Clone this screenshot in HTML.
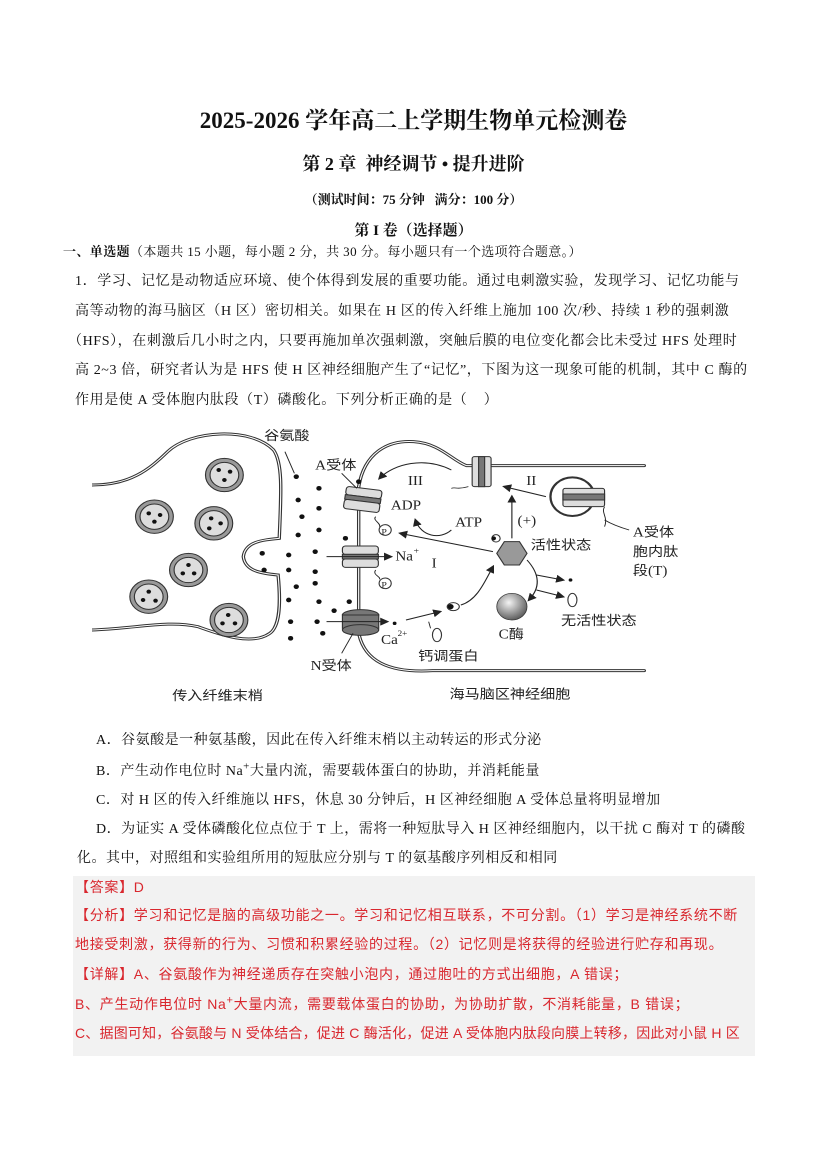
<!DOCTYPE html>
<html><head><meta charset="utf-8">
<style>
html,body{margin:0;padding:0;background:#fff;}
body{width:827px;height:1169px;position:relative;overflow:hidden;font-family:"Liberation Serif","Noto Serif CJK SC","Noto Sans CJK SC",serif;color:#111;}
.t{position:absolute;white-space:nowrap;}
.b{font-size:14px;left:75px;letter-spacing:0.6px;}
.o{font-size:14px;left:96px;letter-spacing:0.5px;}
.ans{position:absolute;left:73px;top:876px;width:682px;height:180px;background:#f2f2f2;}
.r{color:#d9272e;font-size:14px;left:75px;letter-spacing:0.7px;font-family:"Liberation Sans","Noto Sans CJK SC",sans-serif;}
.sm{font-size:11px;}
svg text{font-family:"Liberation Serif","Noto Sans CJK SC",serif;fill:#222;}
</style></head><body>
<div class="t" style="left:0;width:827px;text-align:center;top:102px;font-size:23px;font-weight:bold;">2025-2026 学年高二上学期生物单元检测卷</div>
<div class="t" style="left:0;width:827px;text-align:center;top:150px;font-size:18px;font-weight:bold;">第 2 章&nbsp; 神经调节 • 提升进阶</div>
<div class="t" style="left:0;width:827px;text-align:center;top:189px;font-size:13px;font-weight:bold;">（测试时间：75 分钟&nbsp;&nbsp; 满分：100 分）</div>
<div class="t" style="left:0;width:827px;text-align:center;top:219px;font-size:15px;font-weight:bold;">第 I 卷（选择题）</div>
<div class="t" style="left:63px;top:241px;font-size:13px;letter-spacing:0.4px;"><b>一、单选题</b>（本题共 15 小题，每小题 2 分，共 30 分。每小题只有一个选项符合题意。）</div>
<div class="t b" style="top:270px;">1．学习、记忆是动物适应环境、使个体得到发展的重要功能。通过电刺激实验，发现学习、记忆功能与</div>
<div class="t b" style="top:300px;">高等动物的海马脑区（H 区）密切相关。如果在 H 区的传入纤维上施加 100 次/秒、持续 1 秒的强刺激</div>
<div class="t b" style="top:330px;left:68px;">（HFS），在刺激后几小时之内，只要再施加单次强刺激，突触后膜的电位变化都会比未受过 HFS 处理时</div>
<div class="t b" style="top:359px;">高 2~3 倍，研究者认为是 HFS 使 H 区神经细胞产生了“记忆”，下图为这一现象可能的机制，其中 C 酶的</div>
<div class="t b" style="top:389px;">作用是使 A 受体胞内肽段（T）磷酸化。下列分析正确的是（&nbsp;&nbsp;&nbsp; ）</div>

<svg style="position:absolute;left:92px;top:420px;" width="592" height="300" viewBox="0 0 1565 900" preserveAspectRatio="none">
<defs>
<radialGradient id="g" cx="0.4" cy="0.35" r="0.7"><stop offset="0" stop-color="#f4f4f4"/><stop offset="1" stop-color="#555"/></radialGradient>
<marker id="a" markerWidth="8" markerHeight="8" refX="6" refY="4" orient="auto"><path d="M0,0 L8,4 L0,8 z" fill="#222"/></marker>
</defs>
<g fill="none" stroke-linecap="round">
<g stroke="#333" stroke-width="9">
<path d="M0,195 C100,195 150,150 200,95 C260,30 420,20 480,90 C505,130 500,220 495,355 C450,360 405,365 400,410 C405,455 450,460 492,465 C500,560 495,620 470,640 C420,680 330,640 280,620 C200,600 120,625 0,630"/>
<path d="M705,200 C720,100 780,60 850,65 C920,70 950,120 990,137 L1460,137"/>
<path d="M705,200 L705,640 C720,720 780,760 900,752 L1460,752"/>
</g>
<g stroke="#fff" stroke-width="3">
<path d="M0,195 C100,195 150,150 200,95 C260,30 420,20 480,90 C505,130 500,220 495,355 C450,360 405,365 400,410 C405,455 450,460 492,465 C500,560 495,620 470,640 C420,680 330,640 280,620 C200,600 120,625 0,630"/>
<path d="M705,200 C720,100 780,60 850,65 C920,70 950,120 990,137 L1460,137"/>
<path d="M705,200 L705,640 C720,720 780,760 900,752 L1460,752"/>
</g>
</g>
<g stroke="#333" stroke-width="3">
<g fill="#999"><circle cx="350" cy="165" r="50"/><circle cx="165" cy="290" r="50"/><circle cx="322" cy="310" r="50"/><circle cx="255" cy="450" r="50"/><circle cx="150" cy="530" r="50"/><circle cx="362" cy="600" r="50"/></g>
<g fill="#ddd"><circle cx="350" cy="165" r="38"/><circle cx="165" cy="290" r="38"/><circle cx="322" cy="310" r="38"/><circle cx="255" cy="450" r="38"/><circle cx="150" cy="530" r="38"/><circle cx="362" cy="600" r="38"/></g>
</g>
<g fill="#111">
<circle cx="335" cy="150" r="6"/><circle cx="365" cy="155" r="6"/><circle cx="350" cy="180" r="6"/>
<circle cx="150" cy="280" r="6"/><circle cx="180" cy="285" r="6"/><circle cx="165" cy="305" r="6"/>
<circle cx="315" cy="295" r="6"/><circle cx="340" cy="310" r="6"/><circle cx="310" cy="325" r="6"/>
<circle cx="255" cy="435" r="6"/><circle cx="240" cy="460" r="6"/><circle cx="270" cy="460" r="6"/>
<circle cx="150" cy="515" r="6"/><circle cx="135" cy="540" r="6"/><circle cx="168" cy="542" r="6"/>
<circle cx="360" cy="585" r="6"/><circle cx="345" cy="610" r="6"/><circle cx="378" cy="610" r="6"/>
<circle cx="540" cy="170" r="7"/><circle cx="600" cy="205" r="7"/><circle cx="545" cy="240" r="7"/><circle cx="600" cy="265" r="7"/><circle cx="555" cy="290" r="7"/><circle cx="600" cy="330" r="7"/><circle cx="545" cy="345" r="7"/><circle cx="450" cy="400" r="7"/><circle cx="520" cy="405" r="7"/><circle cx="590" cy="395" r="7"/><circle cx="455" cy="450" r="7"/><circle cx="520" cy="450" r="7"/><circle cx="590" cy="455" r="7"/><circle cx="540" cy="500" r="7"/><circle cx="590" cy="490" r="7"/><circle cx="520" cy="540" r="7"/><circle cx="600" cy="545" r="7"/><circle cx="525" cy="605" r="7"/><circle cx="595" cy="605" r="7"/><circle cx="610" cy="640" r="7"/><circle cx="525" cy="655" r="7"/><circle cx="670" cy="355" r="7"/><circle cx="705" cy="185" r="7"/><circle cx="640" cy="572" r="7"/><circle cx="680" cy="545" r="7"/><circle cx="800" cy="610" r="5"/><circle cx="1265" cy="480" r="5"/>
</g>
<g stroke="#333" stroke-width="3">
<g transform="rotate(8 715 240)"><rect x="668" y="205" width="95" height="25" rx="8" fill="#ddd"/><rect x="668" y="230" width="95" height="14" fill="#777"/><rect x="668" y="244" width="95" height="28" rx="8" fill="#ddd"/></g>
<rect x="662" y="378" width="95" height="25" rx="8" fill="#ddd"/><rect x="662" y="403" width="95" height="14" fill="#777"/><rect x="662" y="417" width="95" height="25" rx="8" fill="#ddd"/>
<ellipse cx="710" cy="585" rx="48" ry="16" fill="#777"/><rect x="662" y="585" width="96" height="40" fill="#777"/><ellipse cx="710" cy="630" rx="48" ry="16" fill="#777"/>
<rect x="1005" y="110" width="50" height="90" rx="6" fill="#ddd"/><rect x="1022" y="110" width="16" height="90" fill="#777"/>
<circle cx="1270" cy="230" r="58" fill="#fff" stroke-width="6"/>
<rect x="1245" y="205" width="110" height="55" rx="6" fill="#ddd"/><rect x="1245" y="222" width="110" height="18" fill="#777"/>
<circle cx="775" cy="330" r="16" fill="#fff"/><circle cx="775" cy="490" r="16" fill="#fff"/>
<polygon points="1070,400 1090,365 1130,365 1150,400 1130,435 1090,435" fill="#999"/>
<circle cx="1068" cy="355" r="11" fill="#fff"/>
<ellipse cx="955" cy="560" rx="16" ry="12" fill="#fff"/><ellipse cx="912" cy="645" rx="12" ry="20" fill="#fff"/><ellipse cx="1270" cy="540" rx="12" ry="20" fill="#fff"/>
</g>
<circle cx="948" cy="560" r="8" fill="#111"/><circle cx="1062" cy="355" r="6" fill="#111"/>
<circle cx="1110" cy="560" r="40" fill="url(#g)" stroke="#333" stroke-width="2"/>
<g fill="none" stroke="#222" stroke-width="3" marker-end="url(#a)">
<path d="M950,150 C880,110 800,130 760,175"/>
<path d="M1200,230 L1090,200"/>
<path d="M1110,355 L1110,230"/>
<path d="M1060,395 L815,340"/>
<path d="M950,330 C920,360 870,350 855,300"/>
<path d="M620,410 L790,410"/>
<path d="M620,605 L780,605"/>
<path d="M830,600 L920,575"/>
<path d="M975,555 C1020,540 1040,480 1060,440"/>
<path d="M1150,420 C1190,470 1180,510 1155,540"/>
<path d="M1175,465 L1245,480"/>
<path d="M1175,510 L1245,530"/>
</g>
<g fill="none" stroke="#222" stroke-width="2.5">
<path d="M510,95 L535,160"/><path d="M660,160 L700,205"/><path d="M660,700 L690,640"/>
<path d="M1420,330 C1390,320 1370,310 1355,300"/>
<path d="M890,605 L895,625"/>
<path d="M750,290 C740,300 765,310 760,320"/><path d="M750,450 C740,465 765,470 760,478"/>
<path d="M1355,260 C1345,280 1365,290 1355,320"/><path d="M950,205 C960,200 965,210 995,200"/>
</g>
<g font-size="40">
<text x="455" y="60">谷氨酸</text>
<text x="590" y="148">A受体</text>
<text x="835" y="195">III</text>
<text x="1148" y="195">II</text>
<text x="790" y="268">ADP</text>
<text x="960" y="320">ATP</text>
<text x="1125" y="315">(+)</text>
<text x="1160" y="388">活性状态</text>
<text x="802" y="422">Na</text><text x="850" y="400" font-size="26">+</text>
<text x="898" y="442">I</text>
<text x="764" y="672">Ca</text><text x="808" y="648" font-size="24">2+</text>
<text x="1075" y="655">C酶</text>
<text x="1240" y="615">无活性状态</text>
<text x="862" y="722">钙调蛋白</text>
<text x="578" y="750">N受体</text>
<text x="212" y="840">传入纤维末梢</text>
<text x="945" y="835">海马脑区神经细胞</text>
<text x="1430" y="350">A受体</text>
<text x="1430" y="408">胞内肽</text>
<text x="1430" y="465">段(T)</text>
<text x="765" y="343" font-size="26">P</text><text x="765" y="503" font-size="26">P</text>
</g>
</svg>

<div class="t o" style="top:729px;">A．谷氨酸是一种氨基酸，因此在传入纤维末梢以主动转运的形式分泌</div>
<div class="t o" style="top:760px;">B．产生动作电位时 Na<sup class="sm">+</sup>大量内流，需要载体蛋白的协助，并消耗能量</div>
<div class="t o" style="top:789px;">C．对 H 区的传入纤维施以 HFS，休息 30 分钟后，H 区神经细胞 A 受体总量将明显增加</div>
<div class="t o" style="top:818px;">D．为证实 A 受体磷酸化位点位于 T 上，需将一种短肽导入 H 区神经细胞内，以干扰 C 酶对 T 的磷酸</div>
<div class="t o" style="top:847px;left:77px;">化。其中，对照组和实验组所用的短肽应分别与 T 的氨基酸序列相反和相同</div>

<div class="ans"></div>
<div class="t r" style="top:877px;">【答案】D</div>
<div class="t r" style="top:905px;">【分析】学习和记忆是脑的高级功能之一。学习和记忆相互联系，不可分割。（1）学习是神经系统不断</div>
<div class="t r" style="top:934px;">地接受刺激，获得新的行为、习惯和积累经验的过程。（2）记忆则是将获得的经验进行贮存和再现。</div>
<div class="t r" style="top:964px;">【详解】A、谷氨酸作为神经递质存在突触小泡内，通过胞吐的方式出细胞，A 错误；</div>
<div class="t r" style="top:994px;">B、产生动作电位时 Na<sup class="sm">+</sup>大量内流，需要载体蛋白的协助，为协助扩散，不消耗能量，B 错误；</div>
<div class="t r" style="top:1023px;letter-spacing:0.2px;">C、据图可知，谷氨酸与 N 受体结合，促进 C 酶活化，促进 A 受体胞内肽段向膜上转移，因此对小鼠 H 区</div>
</body></html>
